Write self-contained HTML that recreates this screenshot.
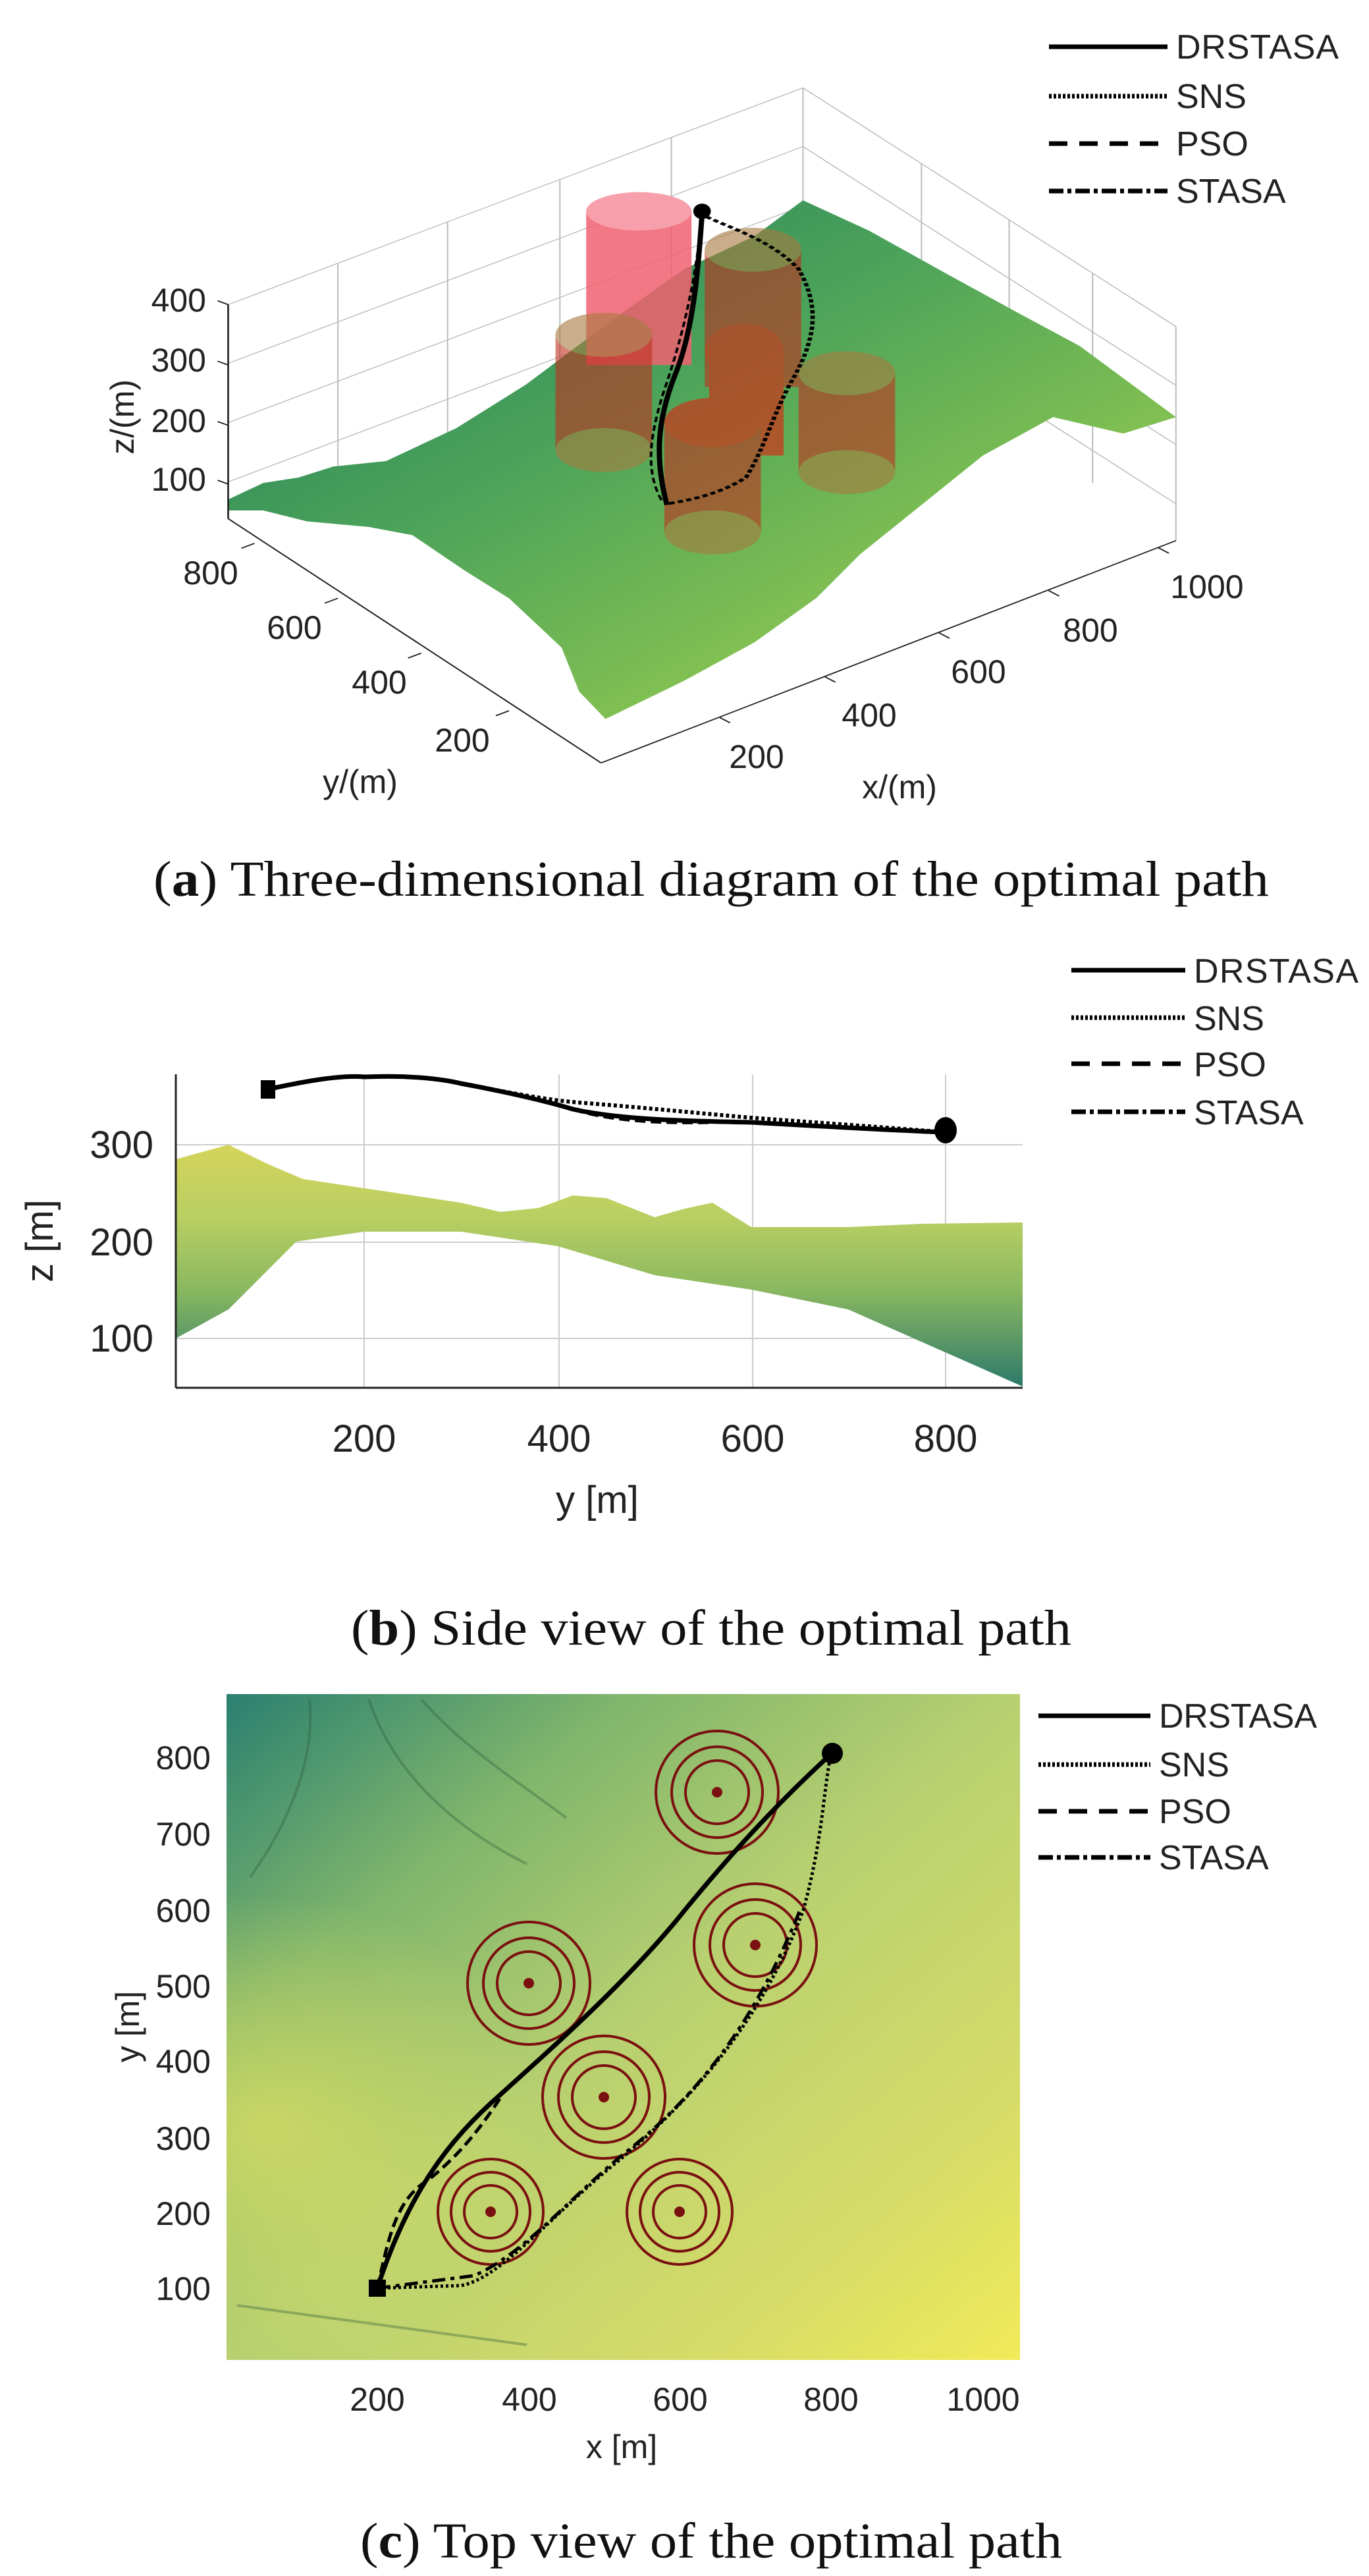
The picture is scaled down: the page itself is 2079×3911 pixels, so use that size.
<!DOCTYPE html>
<html><head><meta charset="utf-8"><style>
html,body{margin:0;padding:0;background:#fff}
svg{display:block}
.t{font-family:"Liberation Sans",Arial,sans-serif;fill:#222}
.c{font-family:"Liberation Serif","Times New Roman",serif;fill:#111}
</style></head><body>
<svg width="2079" height="3911" viewBox="0 0 2079 3911" xmlns="http://www.w3.org/2000/svg">
<defs>
<linearGradient id="ga" x1="0" y1="0" x2="1" y2="1">
<stop offset="0" stop-color="#1f7a5c"/><stop offset="0.4" stop-color="#4aa25a"/><stop offset="0.7" stop-color="#80bf52"/><stop offset="1" stop-color="#c0da3c"/></linearGradient>
<linearGradient id="gb" x1="0" y1="0" x2="0" y2="1">
<stop offset="0" stop-color="#d4d45a"/><stop offset="0.3" stop-color="#b9cf62"/><stop offset="0.6" stop-color="#8ab860"/><stop offset="1" stop-color="#2d7a6a"/></linearGradient>
<linearGradient id="gc" x1="0" y1="0" x2="1" y2="1">
<stop offset="0" stop-color="#2a8070"/><stop offset="0.25" stop-color="#7fb56c"/><stop offset="0.5" stop-color="#b8d070"/><stop offset="0.8" stop-color="#d6dc68"/><stop offset="1" stop-color="#f2ea58"/></linearGradient>
<radialGradient id="gc2" cx="0.05" cy="0.65" r="0.35">
<stop offset="0" stop-color="#e0e060" stop-opacity="0.7"/><stop offset="1" stop-color="#e0e060" stop-opacity="0"/></radialGradient>
</defs>

<!-- PANEL A -->
<g transform="matrix(1.3327 0 0 0.8333 0 0)">
<g stroke="#bbb" stroke-width="1.5" fill="none">
<line x1="260" y1="555" x2="915" y2="160"/><line x1="260" y1="662" x2="915" y2="267"/>
<line x1="260" y1="770" x2="915" y2="375"/><line x1="260" y1="878" x2="915" y2="483"/>
<line x1="915" y1="160" x2="1340" y2="595"/><line x1="915" y1="267" x2="1340" y2="702"/>
<line x1="915" y1="375" x2="1340" y2="810"/><line x1="915" y1="483" x2="1340" y2="918"/>
<line x1="385" y1="480" x2="385" y2="870"/><line x1="510" y1="405" x2="510" y2="795"/>
<line x1="638" y1="328" x2="638" y2="718"/><line x1="765" y1="250" x2="765" y2="640"/>
<line x1="915" y1="160" x2="915" y2="540"/>
<line x1="1050" y1="298" x2="1050" y2="680"/><line x1="1150" y1="400" x2="1150" y2="782"/>
<line x1="1245" y1="498" x2="1245" y2="880"/><line x1="1340" y1="595" x2="1340" y2="985"/>
</g>
<polygon fill="url(#ga)" points="260,910 300,880 340,870 380,850 440,840 520,780 600,700 700,580 780,490 860,430 915,365 990,420 1080,500 1160,570 1230,630 1340,760 1280,790 1200,760 1120,830 1050,920 980,1010 930,1090 860,1170 780,1240 690,1310 660,1260 640,1180 580,1090 530,1040 470,975 420,960 350,950 300,930 260,930"/>
<rect x="668" y="385" width="120" height="280" fill="#f06070" opacity="0.85"/>
<ellipse cx="728" cy="385" rx="60" ry="35" fill="#f7a0ac"/>
<g opacity="0.6">
<rect x="633" y="610" width="110" height="210" fill="#c03020"/>
<ellipse cx="688" cy="820" rx="55" ry="40" fill="#a87a40"/>
<ellipse cx="688" cy="610" rx="55" ry="40" fill="#a87a40"/>
<rect x="803" y="455" width="110" height="250" fill="#c03020"/>
<ellipse cx="858" cy="455" rx="55" ry="40" fill="#a87a40"/>
<rect x="808" y="640" width="85" height="190" fill="#e02010"/>
<ellipse cx="848" cy="640" rx="45" ry="50" fill="#e02010"/>
<rect x="757" y="770" width="110" height="200" fill="#c03020"/>
<ellipse cx="812" cy="770" rx="55" ry="45" fill="#e02010"/>
<ellipse cx="812" cy="970" rx="55" ry="40" fill="#a87a40"/>
<rect x="910" y="680" width="110" height="180" fill="#c03020"/>
<ellipse cx="965" cy="680" rx="55" ry="40" fill="#a87a40"/>
<ellipse cx="965" cy="860" rx="55" ry="40" fill="#a87a40"/>
</g>
<g fill="none" stroke="#000">
<path d="M800,390 C795,500 790,600 770,680 C750,760 745,830 760,920" stroke-width="6"/>
<path d="M805,395 C840,420 880,440 910,490 C935,560 930,620 900,700 C880,760 870,820 850,870 C820,900 790,910 760,918" stroke-width="5" stroke-dasharray="6 4"/>
<path d="M800,395 C790,550 770,650 755,720 C740,800 735,860 755,915" stroke-width="3" stroke-dasharray="10 6"/>
</g>
<ellipse cx="800" cy="385" rx="10" ry="14" fill="#000"/>
<g stroke="#222" stroke-width="2" fill="none">
<line x1="260" y1="555" x2="260" y2="945"/>
<line x1="260" y1="945" x2="685" y2="1390"/>
<line x1="685" y1="1390" x2="1340" y2="985"/>
<line x1="248" y1="548" x2="260" y2="555"/><line x1="248" y1="658" x2="260" y2="665"/>
<line x1="248" y1="768" x2="260" y2="775"/><line x1="248" y1="875" x2="260" y2="882"/>
<line x1="290" y1="990" x2="275" y2="999"/><line x1="385" y1="1090" x2="370" y2="1099"/>
<line x1="480" y1="1190" x2="465" y2="1199"/><line x1="580" y1="1295" x2="565" y2="1304"/>
<line x1="820" y1="1307" x2="832" y2="1317"/><line x1="940" y1="1233" x2="952" y2="1243"/>
<line x1="1070" y1="1153" x2="1082" y2="1163"/><line x1="1195" y1="1076" x2="1207" y2="1086"/>
<line x1="1320" y1="998" x2="1332" y2="1008"/>
</g>
</g>
<g class="t" font-size="50">
<text x="313" y="473" text-anchor="end">400</text>
<text x="313" y="564" text-anchor="end">300</text>
<text x="313" y="656" text-anchor="end">200</text>
<text x="313" y="745" text-anchor="end">100</text>
<text x="320" y="887" text-anchor="middle">800</text>
<text x="447" y="970" text-anchor="middle">600</text>
<text x="576" y="1053" text-anchor="middle">400</text>
<text x="702" y="1141" text-anchor="middle">200</text>
<text x="1149" y="1166" text-anchor="middle">200</text>
<text x="1320" y="1103" text-anchor="middle">400</text>
<text x="1486" y="1037" text-anchor="middle">600</text>
<text x="1656" y="974" text-anchor="middle">800</text>
<text x="1833" y="908" text-anchor="middle">1000</text>
<text x="547" y="1204" text-anchor="middle">y/(m)</text>
<text x="1366" y="1212" text-anchor="middle">x/(m)</text>
<text transform="translate(203,633) rotate(-90)" text-anchor="middle">z/(m)</text>
</g>
<g stroke="#000" stroke-width="7">
<line x1="1593" y1="71" x2="1773" y2="71"/>
<line x1="1593" y1="146" x2="1773" y2="146" stroke-dasharray="4 3"/>
<line x1="1593" y1="218" x2="1773" y2="218" stroke-dasharray="28 18"/>
<line x1="1593" y1="290" x2="1773" y2="290" stroke-dasharray="22 6 6 6"/>
</g>
<g class="t" font-size="52">
<text x="1786" y="89" textLength="247">DRSTASA</text>
<text x="1786" y="164">SNS</text>
<text x="1786" y="236">PSO</text>
<text x="1786" y="308">STASA</text>
</g>
<text class="c" x="233" y="1360" font-size="76" textLength="1694" lengthAdjust="spacingAndGlyphs">(<tspan font-weight="bold">a</tspan>) Three-dimensional diagram of the optimal path</text>

<!-- PANEL B -->
<g stroke="#ccc" stroke-width="2">
<line x1="267" y1="1738" x2="1553" y2="1738"/><line x1="267" y1="1886" x2="1553" y2="1886"/><line x1="267" y1="2032" x2="1553" y2="2032"/>
<line x1="553" y1="1631" x2="553" y2="2107"/><line x1="849" y1="1631" x2="849" y2="2107"/><line x1="1143" y1="1631" x2="1143" y2="2107"/><line x1="1436" y1="1631" x2="1436" y2="2107"/>
</g>
<polygon fill="url(#gb)" points="267,1760 347,1738 406,1767 460,1790 553,1804 700,1826 760,1840 818,1834 870,1815 921,1819 994,1848 1040,1835 1082,1826 1120,1850 1141,1863 1288,1863 1400,1858 1553,1856 1553,2105 1288,1988 1141,1958 994,1936 847,1892 700,1870 553,1870 450,1885 347,1988 267,2032"/>
<g fill="none" stroke="#000">
<path d="M406,1654 C470,1640 520,1632 553,1635 C620,1632 671,1638 700,1645 C780,1660 830,1672 870,1684 C940,1700 1040,1702 1141,1704 C1250,1710 1350,1716 1435,1719" stroke-width="7"/>
<path d="M406,1654 C470,1640 520,1632 553,1635 C620,1632 671,1638 700,1645 C780,1660 830,1670 880,1674 C960,1680 1060,1690 1141,1697 C1250,1705 1350,1712 1435,1719" stroke-width="6" stroke-dasharray="5 4"/>
<path d="M870,1684 C920,1700 990,1706 1080,1704" stroke-width="5" stroke-dasharray="16 8"/>
</g>
<rect x="396" y="1640" width="22" height="28" fill="#000"/>
<ellipse cx="1436" cy="1716" rx="17" ry="20" fill="#000"/>
<g stroke="#222" stroke-width="3"><line x1="267" y1="1631" x2="267" y2="2107"/><line x1="267" y1="2107" x2="1553" y2="2107"/></g>
<g class="t" font-size="58">
<text x="233" y="1758" text-anchor="end">300</text>
<text x="233" y="1906" text-anchor="end">200</text>
<text x="233" y="2052" text-anchor="end">100</text>
<text x="553" y="2204" text-anchor="middle">200</text>
<text x="849" y="2204" text-anchor="middle">400</text>
<text x="1143" y="2204" text-anchor="middle">600</text>
<text x="1436" y="2204" text-anchor="middle">800</text>
<text x="907" y="2297" text-anchor="middle">y [m]</text>
<text transform="translate(80,1884) rotate(-90)" text-anchor="middle">z [m]</text>
</g>
<g stroke="#000" stroke-width="7">
<line x1="1627" y1="1473" x2="1800" y2="1473"/>
<line x1="1627" y1="1545" x2="1800" y2="1545" stroke-dasharray="4 3"/>
<line x1="1627" y1="1615" x2="1800" y2="1615" stroke-dasharray="28 18"/>
<line x1="1627" y1="1688" x2="1800" y2="1688" stroke-dasharray="22 6 6 6"/>
</g>
<g class="t" font-size="52">
<text x="1813" y="1492" textLength="250">DRSTASA</text>
<text x="1813" y="1564">SNS</text>
<text x="1813" y="1634">PSO</text>
<text x="1813" y="1707">STASA</text>
</g>
<text class="c" x="533" y="2497" font-size="76" textLength="1094" lengthAdjust="spacingAndGlyphs">(<tspan font-weight="bold">b</tspan>) Side view of the optimal path</text>

<!-- PANEL C -->
<rect x="344" y="2572" width="1205" height="1011" fill="url(#gc)"/>
<rect x="344" y="2572" width="1205" height="1011" fill="url(#gc2)"/>
<g fill="none" stroke="#2a5a3a" stroke-opacity="0.35" stroke-width="4">
<path d="M470,2580 C480,2680 430,2780 380,2850"/><path d="M560,2580 C600,2700 700,2780 800,2830"/>
<path d="M640,2580 C700,2650 780,2700 860,2760"/><path d="M360,3500 C500,3520 650,3540 800,3560"/>
</g>
<g fill="none" stroke="#7a1010" stroke-width="4">
<g transform="translate(1089,2721)"><circle r="93"/><circle r="69"/><circle r="48"/><circle r="6" fill="#7a1010"/></g>
<g transform="translate(1147,2953)"><circle r="93"/><circle r="69"/><circle r="48"/><circle r="6" fill="#7a1010"/></g>
<g transform="translate(803,3011)"><circle r="93"/><circle r="69"/><circle r="48"/><circle r="6" fill="#7a1010"/></g>
<g transform="translate(917,3184)"><circle r="93"/><circle r="69"/><circle r="48"/><circle r="6" fill="#7a1010"/></g>
<g transform="translate(745,3358)"><circle r="80"/><circle r="60"/><circle r="40"/><circle r="6" fill="#7a1010"/></g>
<g transform="translate(1032,3358)"><circle r="80"/><circle r="60"/><circle r="40"/><circle r="6" fill="#7a1010"/></g>
</g>
<g fill="none" stroke="#000">
<path d="M573,3474 C620,3330 680,3250 760,3180 C860,3090 960,3000 1040,2900 C1130,2790 1200,2720 1262,2663" stroke-width="7"/>
<path d="M573,3474 L700,3470 C760,3460 840,3360 940,3280 C1060,3180 1160,3060 1220,2900 C1250,2790 1250,2720 1262,2663" stroke-width="5" stroke-dasharray="4 4"/>
<path d="M573,3474 L720,3455 C800,3420 870,3330 960,3260 C1070,3170 1150,3060 1215,2900" stroke-width="5" stroke-dasharray="20 8 6 8"/>
<path d="M573,3474 C590,3400 600,3340 650,3310 C700,3270 730,3230 760,3185" stroke-width="5" stroke-dasharray="16 8"/>
</g>
<rect x="560" y="3461" width="26" height="26" fill="#000"/>
<circle cx="1264" cy="2662" r="16" fill="#000"/>
<g class="t" font-size="50">
<text x="320" y="2686" text-anchor="end">800</text>
<text x="320" y="2802" text-anchor="end">700</text>
<text x="320" y="2918" text-anchor="end">600</text>
<text x="320" y="3033" text-anchor="end">500</text>
<text x="320" y="3147" text-anchor="end">400</text>
<text x="320" y="3264" text-anchor="end">300</text>
<text x="320" y="3378" text-anchor="end">200</text>
<text x="320" y="3492" text-anchor="end">100</text>
<text x="573" y="3660" text-anchor="middle">200</text>
<text x="804" y="3660" text-anchor="middle">400</text>
<text x="1033" y="3660" text-anchor="middle">600</text>
<text x="1262" y="3660" text-anchor="middle">800</text>
<text x="1493" y="3660" text-anchor="middle">1000</text>
<text x="944" y="3732" text-anchor="middle">x [m]</text>
<text transform="translate(211,3077) rotate(-90)" text-anchor="middle">y [m]</text>
</g>
<g stroke="#000" stroke-width="7">
<line x1="1577" y1="2605" x2="1747" y2="2605"/>
<line x1="1577" y1="2679" x2="1747" y2="2679" stroke-dasharray="4 3"/>
<line x1="1577" y1="2750" x2="1747" y2="2750" stroke-dasharray="28 18"/>
<line x1="1577" y1="2820" x2="1747" y2="2820" stroke-dasharray="22 6 6 6"/>
</g>
<g class="t" font-size="52">
<text x="1760" y="2623" textLength="240">DRSTASA</text>
<text x="1760" y="2697">SNS</text>
<text x="1760" y="2768">PSO</text>
<text x="1760" y="2838">STASA</text>
</g>
<text class="c" x="547" y="3883" font-size="76" textLength="1066" lengthAdjust="spacingAndGlyphs">(<tspan font-weight="bold">c</tspan>) Top view of the optimal path</text>
</svg>
</body></html>
